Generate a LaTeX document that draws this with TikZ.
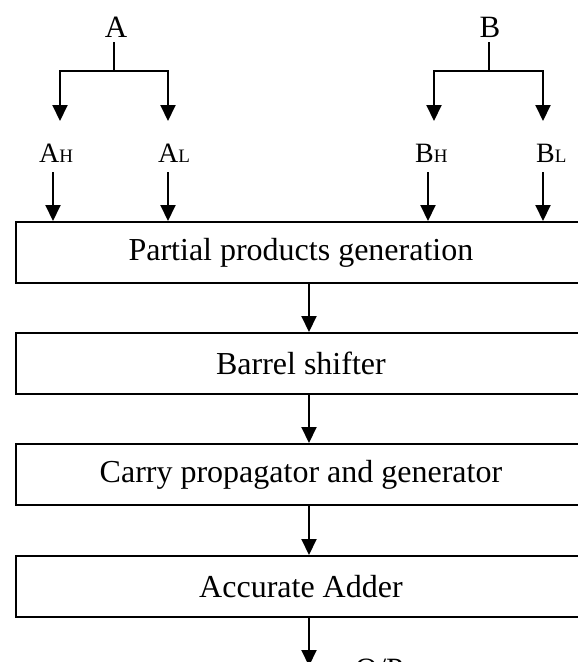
\documentclass[tikz,border=0pt]{standalone}
\usepackage{fontspec}
\setmainfont{Liberation Serif}
\usetikzlibrary{arrows.meta}
\begin{document}
\begin{tikzpicture}[x=1pt,y=-1pt,
  arr/.style={line width=2pt,-{Triangle[width=15pt,length=16pt]}},
  stemline/.style={line width=1.6pt},
  blk/.style={draw,line width=1.9pt,minimum width=575pt,minimum height=61pt,anchor=north west,inner sep=0pt,font=\fontsize{32}{32}\selectfont},
  toplbl/.style={font=\fontsize{31}{31}\selectfont,inner xsep=0pt,inner ysep=5pt},
  sublbl/.style={font=\fontsize{28}{28}\selectfont,inner sep=0pt,anchor=base west}]
\clip (0,0) rectangle (578,662);
\useasboundingbox (0,0) rectangle (578,662);
% top inputs
\node[toplbl] (A) at (116,27) {A};
\node[toplbl] (B) at (490,27) {B};
\coordinate (ja) at (114,71);
\coordinate (jb) at (489,71);
\coordinate (ta1) at (60,121);
\coordinate (ta2) at (168,121);
\coordinate (tb1) at (434,121);
\coordinate (tb2) at (543,121);
\draw[stemline] (A.south -| ja) -- (ja);
\draw[stemline] (B.south -| jb) -- (jb);
\draw[arr] (ja) -| (ta1);
\draw[arr] (ja) -| (ta2);
\draw[arr] (jb) -| (tb1);
\draw[arr] (jb) -| (tb2);
% split labels
\newcommand{\subl}[1]{{\fontsize{19}{19}\selectfont #1}}
\node[sublbl] (AH) at (39,162) {A\subl{H}};
\node[sublbl] (AL) at (158,162) {A\subl{L}};
\node[sublbl] (BH) at (415,162) {B\subl{H}};
\node[sublbl] (BL) at (536,162) {B\subl{L}};
\coordinate (sa1) at (53,172);
\coordinate (sa2) at (168,172);
\coordinate (sb1) at (428,172);
\coordinate (sb2) at (543,172);
% blocks
\node[blk] (p1) at (15,221) {\hspace*{-5pt}Partial products generation};
\node[blk] (p2) at (15,332) {\hspace*{-5pt}Barrel shifter};
\node[blk] (p3) at (15,443) {\hspace*{-5pt}Carry propagator and generator};
\node[blk] (p4) at (15,555) {\hspace*{-5pt}Accurate Adder};
\draw[arr] (sa1) -- (sa1 |- p1.north);
\draw[arr] (sa2) -- (sa2 |- p1.north);
\draw[arr] (sb1) -- (sb1 |- p1.north);
\draw[arr] (sb2) -- (sb2 |- p1.north);
\coordinate (ax) at (309,0);
\draw[arr] (p1.south -| ax) -- (p2.north -| ax);
\draw[arr] (p2.south -| ax) -- (p3.north -| ax);
\draw[arr] (p3.south -| ax) -- (p4.north -| ax);
\coordinate (out) at (309,666);
\draw[arr] (p4.south -| ax) -- (out);
\node[font=\fontsize{31}{31}\selectfont,inner sep=0pt,anchor=north west] (op) at (355,659) {O/P};
\end{tikzpicture}
\end{document}
